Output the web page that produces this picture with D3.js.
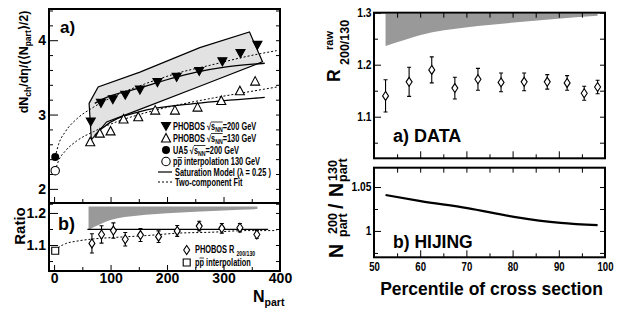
<!doctype html>
<html>
<head>
<meta charset="utf-8">
<style>
  body { margin: 0; background: #fff; }
  svg text { font-family: "Liberation Sans", Arial, Helvetica, sans-serif; font-weight: bold; fill: #000; }
</style>
<script src="https://d3js.org/d3.v7.min.js"></script>
</head>
<body>
<svg width="623" height="310"></svg>
<script>
// ---------- left, panel a : dN/deta per participant pair vs Npart
var npart200 = [65, 83, 104, 126, 152, 183, 217, 257, 298, 330, 360];
var dndeta200 = [2.90, 3.15, 3.20, 3.26, 3.33, 3.43, 3.50, 3.58, 3.71, 3.82, 3.93];
var npart130 = [64, 81, 100, 123, 149, 179, 214, 254, 296, 329, 356];
var dndeta130 = [2.635, 2.75, 2.78, 2.94, 2.97, 3.06, 3.06, 3.10, 3.19, 3.32, 3.45];
var ua5Point = [2, 2.43];
var ppPoint = [2, 2.245];
// systematic band around the 200 GeV points (closed outline)
var sysNpart = [62, 78, 152, 258, 346, 369, 258, 152, 93, 66];
var sysVal = [3.15, 3.37, 3.57, 3.90, 4.11, 3.71, 3.38, 3.07, 2.90, 2.66];
// saturation model
var sat200Npart = [72, 84, 152, 252, 305, 373];
var sat200Val = [3.15, 3.20, 3.36, 3.57, 3.64, 3.69];
var sat130Npart = [72, 84, 152, 252, 373];
var sat130Val = [2.72, 2.81, 3.04, 3.15, 3.23];
// two-component fit
var fitNpart = [2, 8, 20, 40, 70, 110, 160, 220, 280, 340, 394];
var fit200 = [2.43, 2.60, 2.77, 2.94, 3.10, 3.26, 3.41, 3.56, 3.67, 3.78, 3.86];
var fit130 = [2.245, 2.38, 2.51, 2.645, 2.77, 2.90, 3.02, 3.13, 3.22, 3.30, 3.37];

// ---------- left, panel b : ratio 200/130
var ratioNpart = [67, 84, 105, 126, 153, 185, 218, 257, 297, 329, 359];
var ratioVal = [1.105, 1.133, 1.145, 1.118, 1.131, 1.126, 1.144, 1.159, 1.152, 1.154, 1.133];
var ratioErr = [0.030, 0.027, 0.024, 0.021, 0.020, 0.018, 0.017, 0.015, 0.015, 0.013, 0.012];
var ratioPP = [2, 1.082];
var ratioBandNpart = [61, 100, 150, 200, 300, 360];
var ratioBandLow = [1.147, 1.178, 1.192, 1.199, 1.208, 1.212];
var ratioBandHigh = [1.22, 1.22, 1.22, 1.22, 1.22, 1.22];
var ratioSatNpart = [59, 379];
var ratioSatVal = [1.149, 1.149];
var ratioFit = [1.082, 1.092, 1.104, 1.112, 1.119, 1.124, 1.129, 1.137, 1.140, 1.145, 1.145];

// ---------- right, panel a : raw ratio vs percentile
var pctl = [52.5, 57.6, 62.5, 67.5, 72.5, 77.5, 82.5, 87.5, 91.8, 95.5, 98.4];
var rRaw = [1.140, 1.167, 1.190, 1.155, 1.172, 1.166, 1.167, 1.167, 1.165, 1.145, 1.157];
var rErr = [0.031, 0.028, 0.025, 0.021, 0.021, 0.018, 0.017, 0.014, 0.014, 0.0135, 0.013];
var rBandPctl = [52.5, 57.1, 60.1, 70.2, 80.3, 90.4, 98.4];
var rBandLow = [1.236, 1.249, 1.257, 1.272, 1.281, 1.289, 1.294];
var rBandHigh = [1.298, 1.298, 1.298, 1.298, 1.298, 1.298, 1.298];

// ---------- right, panel b : HIJING Npart ratio
var hijingPctl = [52.5, 60.1, 70.2, 80.3, 90.4, 98.4];
var hijingVal = [1.0409, 1.0340, 1.0260, 1.0161, 1.0092, 1.0066];

// ---------- ticks
var leftXLabels = [0, 100, 200, 300, 400];
var leftXMinor = [50, 150, 250, 350];
var leftAYLabels = [2, 3, 4];
var leftAYMinor = [1.8, 2.2, 2.4, 2.6, 2.8, 3.2, 3.4, 3.6, 3.8, 4.2, 4.4];
var leftBYLabels = [1.1, 1.2];
var leftBYMinor = [1.05, 1.15];
var rightXLabels = [50, 60, 70, 80, 90, 100];
var rightXMinor = [55, 65, 75, 85, 95];
var rightAYLabels = [1.1, 1.2, 1.3];
var rightAYMinor = [1.05, 1.15, 1.25];
var rightBYLabels = [1, 1.05];
var rightBYMinor = [0.975, 1.025];

var svg = d3.select("svg");

var xL = d3.scaleLinear().domain([-9, 400]).range([49, 280]);
var yA = d3.scaleLinear().domain([1.81, 4.42]).range([203, 9]);
var yB = d3.scaleLinear().domain([1.019, 1.231]).range([271, 203]);
var xR = d3.scaleLinear().domain([50, 100]).range([374, 605]);
var yRA = d3.scaleLinear().domain([1.02, 1.3]).range([158.3, 12.7]);
var yRB = d3.scaleLinear().domain([0.97, 1.072]).range([257.3, 167.7]);

function curve(xs, ys, sx, sy, dash, w) {
    var line = d3.line().x(function(d) { return sx(d[0]); }).y(function(d) { return sy(d[1]); })
                 .curve(d3.curveMonotoneX);
    svg.append("path").attr("d", line(d3.zip(xs, ys)))
       .attr("fill", "none").attr("stroke", "#000")
       .attr("stroke-width", w || 1.2)
       .attr("stroke-dasharray", dash || null);
}

function band(xs, lo, hi, sx, sy, fill) {
    var area = d3.area().x(function(d) { return sx(d[0]); })
                 .y0(function(d) { return sy(d[1]); }).y1(function(d) { return sy(d[2]); })
                 .curve(d3.curveMonotoneX);
    svg.append("path").attr("d", area(d3.zip(xs, lo, hi))).attr("fill", fill);
}

function frame(x0, y0, x1, y1) {
    svg.append("rect").attr("x", x0).attr("y", y0).attr("width", x1 - x0).attr("height", y1 - y0)
       .attr("fill", "none").attr("stroke", "#000").attr("stroke-width", 2);
}

function ticks(axis, scale, vals, len, tx, ty, fontSize, sx) {
    var a = axis(scale).tickValues(vals).tickSize(-len).tickPadding(3)
              .tickFormat(fontSize ? function(d) { return d; } : function() { return ""; });
    var g = svg.append("g").attr("transform", "translate(" + tx + "," + ty + ")").call(a);
    g.select(".domain").remove();
    g.selectAll("line").attr("stroke", "#000").attr("stroke-width", 1);
    g.selectAll("text").style("font-size", fontSize + "px").attr("fill", "#000");
    if (sx) g.selectAll("text").attr("transform", "scale(" + sx + ",1)");
    return g;
}

function richText(parent, parts, size) {
    var t = parent.append("text").style("font-size", size + "px");
    var shift = 0;
    parts.forEach(function(p) {
        var s = p[1] || 0;
        var ts = t.append("tspan").attr("dy", s - shift).text(p[0]);
        if (p[2]) ts.style("font-size", p[2] + "px");
        shift = s;
    });
    return t;
}

function overline(t, i0, i1, y) {
    var n = t.node();
    var xa = n.getStartPositionOfChar(i0).x, xb = n.getEndPositionOfChar(i1).x;
    d3.select(n.parentNode).append("line")
      .attr("x1", xa).attr("x2", xb).attr("y1", y).attr("y2", y)
      .attr("stroke", "#000").attr("stroke-width", 0.9);
}

var downTri = "M-4.5,-4L4.5,-4L0,4Z";
var upTri = "M-4.5,4L4.5,4L0,-4.5Z";
var diamond = "M0,-4.5L3,0L0,4.5L-3,0Z";
var square = "M-3.5,-3.5H3.5V3.5H-3.5Z";

function marker(x, y, shape, filled) {
    svg.append("path").attr("d", shape).attr("transform", "translate(" + x + "," + y + ")")
       .attr("fill", filled ? "#000" : "#fff").attr("stroke", "#000").attr("stroke-width", 1.1);
}

function errPoints(xs, ys, es, sx, sy) {
    d3.zip(xs, ys, es).forEach(function(d) {
        var x = sx(d[0]), y0 = sy(d[1] - d[2]), y1 = sy(d[1] + d[2]);
        svg.append("path").attr("d", "M" + x + "," + y0 + "V" + y1 +
                                     "M" + (x - 2) + "," + y0 + "H" + (x + 2) +
                                     "M" + (x - 2) + "," + y1 + "H" + (x + 2))
           .attr("stroke", "#000").attr("stroke-width", 1.1).attr("fill", "none");
        marker(x, sy(d[1]), diamond, false);
    });
}

// ================= LEFT PANEL a =================
var sysLine = d3.line().x(function(d) { return xL(d[0]); }).y(function(d) { return yA(d[1]); })
                .curve(d3.curveLinearClosed);
svg.append("path").attr("d", sysLine(d3.zip(sysNpart, sysVal)))
   .attr("fill", "#e2e2e2").attr("stroke", "#000").attr("stroke-width", 1.2);

curve(sat200Npart, sat200Val, xL, yA, null, 1.3);
curve(sat130Npart, sat130Val, xL, yA, null, 1.3);
curve(fitNpart, fit200, xL, yA, "2,2", 1);
curve(fitNpart, fit130, xL, yA, "2,2", 1);

d3.zip(npart200, dndeta200).forEach(function(d) { marker(xL(d[0]), yA(d[1]), downTri, true); });
d3.zip(npart130, dndeta130).forEach(function(d) { marker(xL(d[0]), yA(d[1]), upTri, false); });
svg.append("circle").attr("cx", xL(ua5Point[0])).attr("cy", yA(ua5Point[1])).attr("r", 4).attr("fill", "#000");
svg.append("circle").attr("cx", xL(ppPoint[0])).attr("cy", yA(ppPoint[1])).attr("r", 4.2)
   .attr("fill", "#fff").attr("stroke", "#000").attr("stroke-width", 1.1);

// legend a
var legRows = [126.5, 138, 150, 161.5, 172, 182];
marker(166, legRows[0], downTri, true);
marker(166, legRows[1], upTri, false);
svg.append("circle").attr("cx", 166).attr("cy", legRows[2]).attr("r", 4).attr("fill", "#000");
svg.append("circle").attr("cx", 166).attr("cy", legRows[3]).attr("r", 4.2)
   .attr("fill", "#fff").attr("stroke", "#000").attr("stroke-width", 1.1);
svg.append("line").attr("x1", 158).attr("x2", 172).attr("y1", legRows[4]).attr("y2", legRows[4])
   .attr("stroke", "#000").attr("stroke-width", 1.2);
svg.append("line").attr("x1", 158).attr("x2", 172).attr("y1", legRows[5]).attr("y2", legRows[5])
   .attr("stroke", "#000").attr("stroke-width", 1).attr("stroke-dasharray", "2,2");

function legendGroup(x, y) {
    return svg.append("g").attr("transform", "translate(" + x + "," + (y + 3.5) + ") scale(0.74,1)");
}
var t1 = richText(legendGroup(173, legRows[0]), [["PHOBOS \u221as"], ["NN", 2, 7], ["=200 GeV", 0]], 10);
overline(t1, 8, 10, -8);
var t2 = richText(legendGroup(173, legRows[1]), [["PHOBOS \u221as"], ["NN", 2, 7], ["=130 GeV", 0]], 10);
overline(t2, 8, 10, -8);
var t3 = richText(legendGroup(173, legRows[2]), [["UA5 \u221as"], ["NN", 2, 7], ["=200 GeV", 0]], 10);
overline(t3, 5, 7, -8);
var t4 = richText(legendGroup(173, legRows[3]), [["pp interpolation 130 GeV"]], 10);
overline(t4, 1, 1, -7.5);
richText(legendGroup(175, legRows[4]), [["Saturation Model (\u03bb = 0.25 )"]], 10);
richText(legendGroup(175, legRows[5]), [["Two-component Fit"]], 10);

svg.append("text").attr("x", 60).attr("y", 33).style("font-size", "17px").text("a)");

// ================= LEFT PANEL b =================
band(ratioBandNpart, ratioBandLow, ratioBandHigh, xL, yB, "#999");
curve(ratioSatNpart, ratioSatVal, xL, yB, null, 1.3);
curve(fitNpart, ratioFit, xL, yB, "2,2", 1);
errPoints(ratioNpart, ratioVal, ratioErr, xL, yB);
marker(xL(ratioPP[0]), yB(ratioPP[1]), square, false);

marker(186.7, 250, diamond, false);
richText(legendGroup(195, 250 - 0.5), [["PHOBOS R "], ["200/130", 2.5, 7]], 10);
marker(186.7, 262.5, square, false);
var t5 = richText(legendGroup(195, 262.5 - 0.5), [["pp interpolation"]], 10);
overline(t5, 1, 1, -7.5);

svg.append("text").attr("x", 58).attr("y", 230).style("font-size", "18px").text("b)");

// frames + ticks (left)
frame(49, 9, 280, 203);
frame(49, 203, 280, 271);
ticks(d3.axisLeft, yA, leftAYLabels, 9, 49, 0, 14);
ticks(d3.axisLeft, yA, leftAYMinor, 4, 49, 0);
ticks(d3.axisRight, yA, leftAYLabels.concat(leftAYMinor), 4, 280, 0);
ticks(d3.axisBottom, xL, leftXLabels, 6, 0, 203);
ticks(d3.axisBottom, xL, leftXMinor, 4, 0, 203);
ticks(d3.axisLeft, yB, leftBYLabels, 9, 49, 0, 14);
ticks(d3.axisLeft, yB, leftBYMinor, 4, 49, 0);
ticks(d3.axisRight, yB, leftBYLabels.concat(leftBYMinor), 4, 280, 0);
ticks(d3.axisBottom, xL, leftXLabels, 6, 0, 271, 14).selectAll("text").attr("dy", "0.68em").attr("y", 2);
ticks(d3.axisBottom, xL, leftXMinor, 4, 0, 271);

// left axis titles
var yl = svg.append("text").attr("transform", "translate(28,62) rotate(-90)")
            .attr("text-anchor", "middle").style("font-size", "12.5px");
yl.append("tspan").text("dN");
yl.append("tspan").attr("dy", 3).style("font-size", "8.5px").text("ch");
yl.append("tspan").attr("dy", -3).text("/d\u03b7/(\u27e8N");
yl.append("tspan").attr("dy", 3).style("font-size", "8.5px").text("part");
yl.append("tspan").attr("dy", -3).text("\u27e9/2)");

svg.append("text").attr("transform", "translate(25,226) rotate(-90)")
   .attr("text-anchor", "middle").style("font-size", "15px").text("Ratio");

var xl = svg.append("text").attr("x", 253).attr("y", 302).style("font-size", "16px");
xl.append("tspan").text("N");
xl.append("tspan").attr("dy", 3.5).style("font-size", "10.5px").text("part");

// ================= RIGHT PANEL a =================
band(rBandPctl, rBandLow, rBandHigh, xR, yRA, "#999");
errPoints(pctl, rRaw, rErr, xR, yRA);
svg.append("text").attr("x", 393).attr("y", 142).style("font-size", "18px").text("a) DATA");

frame(374, 12.7, 605, 158.3);
ticks(d3.axisLeft, yRA, rightAYLabels, 7, 374, 0, 12, 0.85);
ticks(d3.axisLeft, yRA, rightAYMinor, 4, 374, 0);
ticks(d3.axisRight, yRA, rightAYLabels.concat(rightAYMinor), 5, 605, 0);
ticks(d3.axisBottom, xR, rightXLabels, 7, 0, 158.3);
ticks(d3.axisBottom, xR, rightXMinor, 4, 0, 158.3);
ticks(d3.axisTop, xR, rightXLabels.concat(rightXMinor), 5, 0, 12.7);

// R^raw_200/130
var rl = svg.append("g").attr("transform", "translate(340,82) rotate(-90)");
rl.append("text").attr("x", 0).attr("y", 0).style("font-size", "17.5px").text("R");
rl.append("text").attr("x", 32).attr("y", -7).style("font-size", "11px").text("raw");
rl.append("text").attr("x", 17).attr("y", 9).style("font-size", "12.5px").text("200/130");

// ================= RIGHT PANEL b =================
curve(hijingPctl, hijingVal, xR, yRB, null, 2.2);
svg.append("text").attr("x", 393).attr("y", 248).style("font-size", "17.5px").text("b) HIJING");

frame(374, 167.7, 605, 257.3);
ticks(d3.axisLeft, yRB, rightBYLabels, 7, 374, 0, 12, 0.85);
ticks(d3.axisLeft, yRB, rightBYMinor, 4, 374, 0);
ticks(d3.axisRight, yRB, rightBYLabels.concat(rightBYMinor), 5, 605, 0);
ticks(d3.axisBottom, xR, rightXLabels, 7, 0, 257.3, 12, 0.8).selectAll("text").attr("y", 5);
ticks(d3.axisBottom, xR, rightXMinor, 4, 0, 257.3);
ticks(d3.axisTop, xR, rightXLabels.concat(rightXMinor), 5, 0, 167.7);

// N^200_part / N^130_part
var nl = svg.append("g").attr("transform", "translate(343,258) rotate(-90)");
nl.append("text").attr("x", 0).attr("y", 0).style("font-size", "19.5px").text("N");
nl.append("text").attr("x", 24).attr("y", -6).style("font-size", "12.5px").text("200");
nl.append("text").attr("x", 21).attr("y", 4).style("font-size", "12.5px").text("part");
nl.append("text").attr("x", 49).attr("y", 0).style("font-size", "19.5px").text("/");
nl.append("text").attr("x", 61).attr("y", 0).style("font-size", "19.5px").text("N");
nl.append("text").attr("x", 77).attr("y", -6).style("font-size", "12.5px").text("130");
nl.append("text").attr("x", 76).attr("y", 4).style("font-size", "12.5px").text("part");

svg.append("text").attr("x", 491.5).attr("y", 295).attr("text-anchor", "middle")
   .style("font-size", "17.5px").text("Percentile of cross section");
</script>
</body>
</html>
